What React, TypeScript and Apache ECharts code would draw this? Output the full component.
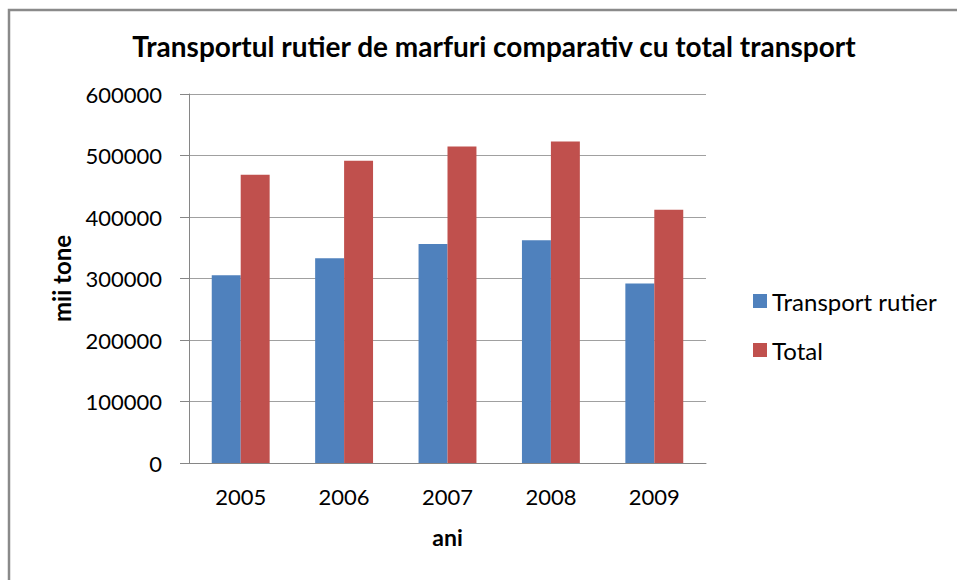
import React, { useEffect, useRef } from "react";
import * as echarts from "echarts";

const years = ["2005", "2006", "2007", "2008", "2009"];
const transportRutier = [305400, 333000, 356200, 362200, 291900];
const total = [468600, 491400, 514600, 522700, 411900];
const titleText = "Transportul rutier de marfuri comparativ cu total transport";
const seriesNames = ["Transport rutier", "Total"];

export default function App() {
  const ref = useRef<HTMLDivElement>(null);
  useEffect(() => {
    if (!ref.current) return;
    const chart = echarts.init(ref.current, null, { renderer: "svg" });
    const font = "Lato, 'Open Sans', sans-serif";
    chart.setOption({
      animation: false,
      backgroundColor: "#ffffff",
      graphic: [
        {
          type: "rect",
          shape: { x: 9, y: 10, width: 1000, height: 1000 },
          style: { fill: "none", stroke: "#8a8a8a", lineWidth: 2.5 },
          silent: true,
        },
      ],
      title: {
        text: titleText,
        left: 489,
        top: 27,
        textAlign: "center",
        textStyle: { fontFamily: font, fontWeight: "bold", fontSize: 28, color: "#000" },
      },
      legend: {
        orient: "vertical",
        left: 748,
        top: 284,
        itemWidth: 14,
        itemHeight: 14,
        itemGap: 25,
        icon: "rect",
        data: seriesNames,
        textStyle: { fontFamily: font, fontSize: 24, color: "#000" },
      },
      grid: { left: 189, right: 251, top: 94, bottom: 117, containLabel: false },
      xAxis: {
        type: "category",
        data: years,
        name: "ani",
        nameLocation: "middle",
        nameGap: 62,
        nameTextStyle: { fontFamily: font, fontWeight: "bold", fontSize: 23, color: "#000" },
        axisLine: { show: true, lineStyle: { color: "#868686", width: 1 } },
        axisTick: { show: false },
        axisLabel: { fontFamily: font, fontSize: 22, color: "#000", margin: 22 },
      },
      yAxis: {
        type: "value",
        min: 0,
        max: 600000,
        interval: 100000,
        name: "mii tone",
        nameLocation: "middle",
        nameGap: 116,
        nameRotate: 90,
        nameTextStyle: { fontFamily: font, fontWeight: "bold", fontSize: 24, color: "#000" },
        axisLine: { show: true, lineStyle: { color: "#868686", width: 1 } },
        axisTick: { show: true, inside: false, length: 9, lineStyle: { color: "#868686" } },
        axisLabel: {
          fontFamily: font,
          fontSize: 22,
          color: "#000",
          margin: 27,
          formatter: (v: number) => String(v),
        },
        splitLine: { show: true, lineStyle: { color: "#a0a0a0", width: 1 } },
      },
      series: [
        {
          name: seriesNames[0],
          type: "bar",
          data: transportRutier,
          itemStyle: { color: "#4F81BD" },
          barGap: "0%",
          barCategoryGap: "44%",
        },
        {
          name: seriesNames[1],
          type: "bar",
          data: total,
          itemStyle: { color: "#C0504D" },
          barGap: "0%",
          barCategoryGap: "44%",
        },
      ],
    });
    return () => chart.dispose();
  }, []);
  return (
    <div
      ref={ref}
      style={{ position: "absolute", left: 0, top: 0, width: 957, height: 580 }}
    />
  );
}
